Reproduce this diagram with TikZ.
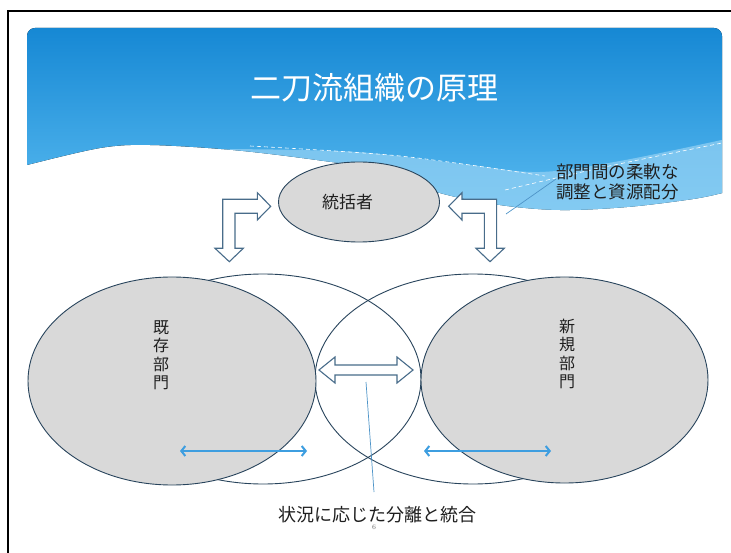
\documentclass[tikz,border=0pt]{standalone}
\usepackage{fontspec}
\newfontfamily\jp{Noto Sans CJK JP}
\usetikzlibrary{shapes.geometric,arrows.meta}
\definecolor{hdtop}{RGB}{22,136,212}
\definecolor{hdbot}{RGB}{88,186,240}
\definecolor{band}{RGB}{150,210,244}
\definecolor{edge}{RGB}{40,68,92}
\definecolor{blockedge}{RGB}{72,108,138}
\definecolor{grayfill}{RGB}{217,217,217}
\definecolor{arrowblue}{RGB}{62,158,224}
\definecolor{callout}{RGB}{78,148,200}
\begin{document}
\begin{tikzpicture}[x=1pt,y=-1pt,
  wellipse/.style={ellipse,draw=edge,line width=0.9pt,inner sep=0pt},
  gellipse/.style={ellipse,draw=edge,line width=0.9pt,fill=grayfill,inner sep=0pt},
  blockarrow/.style={draw=blockedge,line width=1.1pt,fill=white,line join=miter},
  bluearr/.style={draw=arrowblue,line width=2pt,{Straight Barb[length=4pt,width=10pt]}-{Straight Barb[length=4pt,width=10pt]}},
  calloutline/.style={draw=callout,line width=0.7pt},
  lbl/.style={font=\jp\fontsize{17.5}{19.5}\selectfont,text=black!88,inner sep=0pt},
  vlbl/.style={font=\jp\fontsize{16}{18.5}\selectfont,text=black!88,inner sep=0pt,align=center}]
\useasboundingbox (0,0) rectangle (731,553);
\fill[white] (0,0) rectangle (731,553);
% frame
\draw[black,line width=2pt] (8,553) -- (8,11) -- (731,11);
% header
\def\headerpath{(27,165) [rounded corners=8pt] -- (27,28) -- (722,28) -- (722,193) [sharp corners]
  -- plot[smooth,tension=0.55] coordinates {(722,193) (693,199) (627,207) (560,210) (500,205) (440,193) (370,169) (317,160) (233,150) (150,145) (100,148) (27,165)} -- cycle}
\fill[top color=hdtop,bottom color=hdbot] \headerpath;
\begin{scope}
  \clip \headerpath;
  \fill[band,opacity=0.7] plot[smooth,tension=0.55] coordinates {(225,149) (300,150) (370,153) (470,165) (540,172) (620,161) (731,138)} -- (731,260) -- (225,260) -- cycle;
  \draw[white,line width=0.6pt,dash pattern=on 4pt off 3pt] plot[smooth] coordinates {(250,146) (400,156) (545,176)};
  \draw[white,line width=0.6pt,dash pattern=on 4pt off 3pt] plot[smooth] coordinates {(505,190) (600,168) (722,143)};
\end{scope}
\node[text=white,font=\jp\fontsize{31}{31}\selectfont,inner sep=0pt] (title) at (374,88) {二刀流組織の原理};
% big ellipses
\node[wellipse,minimum width=316pt,minimum height=210pt] (lw) at (263,379) {};
\node[wellipse,minimum width=316pt,minimum height=210pt] (rw) at (473,379) {};
\node[gellipse,minimum width=288pt,minimum height=208pt] (lg) at (172,381) {};
\node[gellipse,minimum width=287pt,minimum height=206pt] (rg) at (564.5,380) {};
% top ellipse
\node[gellipse,minimum width=161pt,minimum height=80pt] (top) at (359,202) {};
\node[lbl,font=\jp\fontsize{17}{17}\selectfont] (toplbl) at (347.5,202) {統括者};
% bent arrows
\draw[blockarrow] (222.7,199.3) -- (257.3,199.3) -- (257.3,192.7) -- (270.7,206.3) -- (257.3,220) -- (257.3,213.3) -- (235,213.3) -- (235,248.3) -- (243.3,248.3) -- (229.3,261.7) -- (215,248.3) -- (222.7,248.3) -- cycle;
\draw[blockarrow] (496.6,199.3) -- (462,199.3) -- (462,192.7) -- (448.6,206.3) -- (462,220) -- (462,213.3) -- (484.3,213.3) -- (484.3,248.3) -- (476,248.3) -- (490,261.7) -- (504.3,248.3) -- (496.6,248.3) -- cycle;
% middle double arrow
\draw[blockarrow] (319,370) -- (335,357) -- (335,365) -- (397,365) -- (397,357) -- (413,370) -- (397,383) -- (397,375) -- (335,375) -- (335,383) -- cycle;
% vertical labels
\node[vlbl] (kizon) at (161,355) {既\\存\\部\\門};
\node[vlbl] (shinki) at (567,354) {新\\規\\部\\門};
% blue arrows
\coordinate (la1) at (180,451);
\coordinate (la2) at (307,451);
\coordinate (ra1) at (424,451);
\coordinate (ra2) at (551,451);
\draw[bluearr] (la1) -- (la2);
\draw[bluearr] (ra1) -- (ra2);
% callouts
\node[lbl,anchor=west,align=left] (note) at (556,182) {部門間の柔軟な\\調整と資源配分};
\coordinate (noteend) at (506,214);
\coordinate (notestart) at (556,179);
\draw[calloutline] (notestart) -- (noteend);
\node[lbl,font=\jp\fontsize{18}{18}\selectfont] (bottom) at (377.5,515) {状況に応じた分離と統合};
\coordinate (mid1) at (366,382);
\coordinate (mid2) at (374,492);
\draw[calloutline] (mid1) -- (mid2);
\node[font=\fontsize{7}{7}\selectfont,text=black!60,inner sep=0pt] (pg) at (374,527) {6};
\end{tikzpicture}
\end{document}
